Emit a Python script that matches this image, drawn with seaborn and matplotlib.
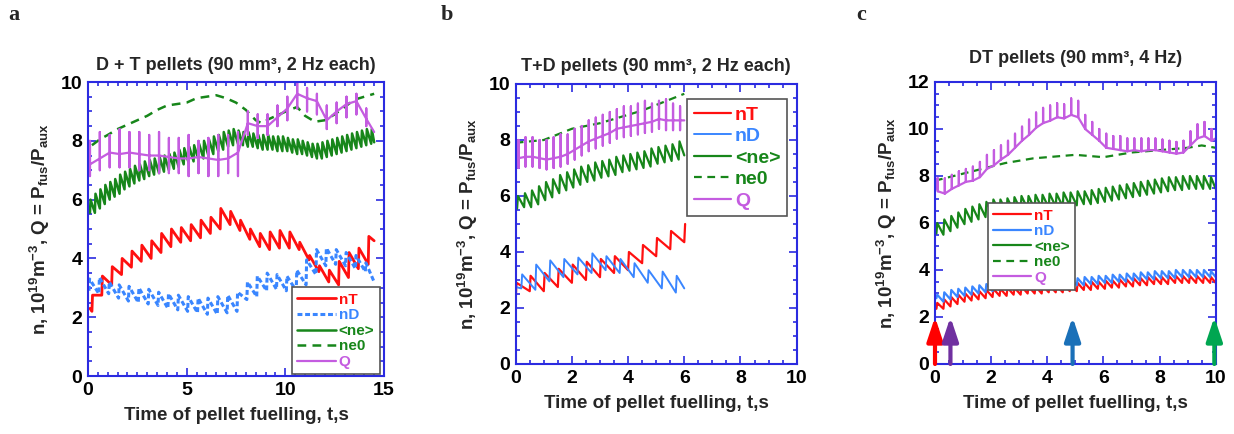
"""
Pellet fuelling scenarios: densities and fusion gain vs. time for three pellet schemes.
"""

from matplotlib.ticker import MultipleLocator
import matplotlib.pyplot as plt
import seaborn as sns
import pandas as pd
import numpy as np

# ---------------- data ----------------
# pellet injection times follow the stated frequencies (2 Hz each / 4 Hz)

# panel a: D + T pellets
a_nT_t = np.arange(0.2, 14.3, 0.5)
a_nT_hi = [2.75, 3.4, 3.72, 4.0, 4.25, 4.45, 4.6, 4.85, 5.0, 5.05, 5.15, 5.3, 5.4, 5.7, 5.6,
           5.3, 5.0, 4.85, 4.9, 4.95, 4.9, 4.55, 4.1, 3.75, 3.6, 3.9, 4.2, 4.35, 4.75]
a_nT_lo = [2.2, 2.75, 3.1, 3.45, 3.7, 3.9, 4.0, 4.2, 4.4, 4.55, 4.6, 4.7, 4.85, 5.0, 5.15,
           4.95, 4.65, 4.4, 4.3, 4.35, 4.35, 4.3, 3.95, 3.55, 3.2, 3.1, 3.35, 3.65, 3.8]
a_nT_end = (14.5, 4.6)

a_nD_t = np.arange(0.05, 14.1, 0.5)
a_nD_hi = [3.3, 3.35, 3.2, 3.1, 3.05, 3.0, 2.95, 2.85, 2.8, 2.75, 2.7, 2.65, 2.65, 2.7, 2.75,
           2.85, 3.2, 3.4, 3.5, 3.45, 3.4, 3.6, 3.95, 4.3, 4.35, 4.3, 4.2, 4.1, 3.85]
a_nD_lo = [2.9, 2.8, 2.8, 2.65, 2.55, 2.5, 2.45, 2.4, 2.3, 2.25, 2.2, 2.15, 2.1, 2.1, 2.15,
           2.2, 2.6, 2.7, 2.9, 2.95, 2.9, 2.9, 3.1, 3.45, 3.75, 3.8, 3.75, 3.65, 3.55]
a_nD_end = (14.5, 3.2)

a_ne_t = np.arange(0.1, 14.4, 0.25)
a_ne_hi = [6.0, 6.2, 6.35, 6.5, 6.6, 6.7, 6.85, 6.95, 7.05, 7.15,
           7.2, 7.3, 7.35, 7.4, 7.45, 7.5, 7.55, 7.6, 7.7, 7.75,
           7.8, 7.85, 7.9, 8.0, 8.05, 8.15, 8.2, 8.3, 8.35, 8.4,
           8.35, 8.3, 8.3, 8.25, 8.2, 8.2, 8.2, 8.15, 8.15, 8.15,
           8.1, 8.05, 8.05, 8.0, 7.95, 7.9, 7.9, 7.95, 8.0, 8.05,
           8.1, 8.15, 8.2, 8.25, 8.3, 8.35, 8.4, 8.4]
a_ne_lo = [5.55, 5.55, 5.7, 5.85, 6.0, 6.1, 6.2, 6.35, 6.45, 6.55,
           6.65, 6.7, 6.8, 6.85, 6.9, 6.95, 7.0, 7.05, 7.1, 7.2,
           7.25, 7.3, 7.35, 7.4, 7.5, 7.55, 7.65, 7.7, 7.8, 7.85,
           7.9, 7.85, 7.8, 7.8, 7.75, 7.7, 7.7, 7.7, 7.65, 7.65,
           7.65, 7.6, 7.55, 7.55, 7.5, 7.45, 7.4, 7.4, 7.45, 7.5,
           7.55, 7.6, 7.65, 7.7, 7.75, 7.8, 7.85, 7.9]
a_ne_end = (14.5, 7.95)

a_ne0_t = [0.2, 0.6, 1.0, 1.5, 2.0, 2.5, 3.0, 3.5, 4.0, 4.5, 5.0, 5.5, 6.0, 6.5, 7.0, 7.5,
           8.0, 8.5, 8.8, 9.2, 9.7, 10.2, 10.6, 11.0, 11.5, 12.0, 12.5, 13.0, 13.5, 14.0, 14.5]
a_ne0 = [7.85, 8.05, 8.2, 8.4, 8.55, 8.7, 8.85, 9.05, 9.2, 9.25, 9.3, 9.45, 9.5, 9.55, 9.45, 9.3,
         9.05, 8.7, 8.6, 8.75, 8.9, 9.05, 9.15, 8.85, 8.65, 8.7, 8.9, 9.15, 9.4, 9.5, 9.6]

a_Q_t = np.arange(0.1, 14.2, 0.5)
a_Q_base = [7.2, 7.4, 7.6, 7.55, 7.6, 7.55, 7.5, 7.5, 7.45, 7.4, 7.4, 7.45, 7.4, 7.35, 7.4,
            7.6, 8.6, 8.5, 8.5, 8.8, 9.1, 9.6, 9.45, 9.35, 8.7, 9.0, 9.25, 9.35, 8.75]
a_Q_top = [8.0, 8.3, 8.2, 8.4, 8.3, 8.3, 8.2, 8.3, 8.1, 8.1, 8.2, 8.0, 8.1, 8.2, 8.2,
           8.3, 9.0, 8.9, 8.9, 9.2, 9.5, 10.0, 9.8, 9.6, 9.2, 9.3, 9.5, 9.6, 9.1]
a_Q_bot = [6.8, 7.0, 7.1, 7.1, 7.1, 7.0, 7.0, 6.9, 6.9, 6.9, 6.8, 6.9, 6.8, 6.8, 6.9,
           6.8, 8.2, 8.1, 8.2, 8.5, 8.7, 9.1, 9.0, 8.9, 8.4, 8.6, 8.8, 8.9, 8.5]
a_Q_start = (0.0, 7.3)
a_Q_end = (14.5, 8.3)

# panel b: T+D pellets
b_nT_t = np.arange(0.0, 6.1, 0.5)
b_nT_hi = [2.9, 3.15, 3.25, 3.4, 3.55, 3.65, 3.75, 3.85, 4.0, 4.25, 4.5, 4.75, 5.0]
b_nT_lo = [2.3, 2.6, 2.6, 2.75, 2.9, 3.0, 3.1, 3.25, 3.35, 3.6, 3.85, 4.1, 4.35]

b_nD_t = np.arange(0.2, 5.8, 0.5)
b_nD_hi = [3.2, 3.55, 3.7, 3.75, 3.8, 3.95, 3.85, 3.75, 3.6, 3.35, 3.3, 3.15]
b_nD_lo = [2.7, 2.65, 2.95, 3.1, 3.2, 3.25, 3.35, 3.25, 3.1, 2.9, 2.7, 2.55]
b_nD_start = (0.0, 2.75)
b_nD_end = (6.0, 2.7)

b_ne_t = np.arange(0.05, 5.9, 0.25)
b_ne_hi = [6.0, 6.1, 6.2, 6.35, 6.5, 6.6, 6.75, 6.85, 6.95, 7.05,
           7.1, 7.2, 7.25, 7.3, 7.4, 7.45, 7.5, 7.55, 7.6, 7.7,
           7.75, 7.8, 7.85, 7.95]
b_ne_lo = [5.55, 5.6, 5.6, 5.7, 5.85, 5.95, 6.1, 6.2, 6.3, 6.4,
           6.5, 6.55, 6.65, 6.7, 6.75, 6.85, 6.9, 6.95, 7.0, 7.05,
           7.15, 7.2, 7.25, 7.3]
b_ne_end = (6.0, 7.45)

b_ne0_t = [0.0, 0.5, 1.0, 1.5, 2.0, 2.5, 3.0, 3.5, 4.0, 4.5, 5.0, 5.5, 6.0]
b_ne0 = [7.9, 7.95, 8.0, 8.2, 8.4, 8.5, 8.6, 8.75, 8.9, 9.05, 9.25, 9.45, 9.65]

b_Q_t = np.arange(0.1, 5.9, 0.25)
b_Q_base = [7.35, 7.4, 7.4, 7.35, 7.3, 7.35, 7.4, 7.5, 7.65, 7.8,
            7.95, 8.05, 8.15, 8.25, 8.4, 8.45, 8.5, 8.55, 8.6, 8.65,
            8.75, 8.7, 8.7, 8.7]
b_Q_top = [8.0, 8.1, 8.1, 8.0, 8.0, 8.1, 8.2, 8.2, 8.4, 8.5,
           8.7, 8.8, 8.9, 9.0, 9.1, 9.2, 9.2, 9.3, 9.4, 9.3,
           9.4, 9.45, 9.3, 9.2]
b_Q_bot = [7.0, 7.05, 7.05, 7.0, 6.95, 7.0, 7.05, 7.15, 7.3, 7.45,
           7.6, 7.7, 7.8, 7.9, 8.05, 8.1, 8.15, 8.2, 8.25, 8.3,
           8.4, 8.35, 8.35, 8.35]
b_Q_start = (0.0, 7.35)
b_Q_end = (6.0, 8.7)

# panel c: DT pellets
c_t = np.arange(0.05, 9.9, 0.25)
c_nT_hi = [2.6, 2.75, 2.85, 2.95, 3.0, 3.05, 3.1, 3.15, 3.2, 3.2,
           3.25, 3.25, 3.3, 3.3, 3.3, 3.35, 3.35, 3.35, 3.4, 3.4,
           3.45, 3.45, 3.5, 3.5, 3.55, 3.55, 3.6, 3.6, 3.65, 3.65,
           3.7, 3.7, 3.7, 3.75, 3.75, 3.75, 3.75, 3.75, 3.75, 3.7]
c_nT_lo = [2.35, 2.35, 2.45, 2.55, 2.65, 2.7, 2.75, 2.8, 2.85, 2.9,
           2.9, 2.95, 2.95, 3.0, 3.0, 3.0, 3.05, 3.05, 3.05, 3.1,
           3.1, 3.15, 3.15, 3.2, 3.2, 3.25, 3.25, 3.3, 3.3, 3.35,
           3.35, 3.4, 3.4, 3.4, 3.45, 3.45, 3.45, 3.45, 3.45, 3.45]
c_nT_end = (10.0, 3.45)

c_nD_hi = [2.95, 3.05, 3.15, 3.2, 3.25, 3.3, 3.35, 3.4, 3.45, 3.45,
           3.5, 3.5, 3.5, 3.55, 3.55, 3.55, 3.6, 3.6, 3.6, 3.65,
           3.65, 3.7, 3.7, 3.75, 3.75, 3.8, 3.8, 3.85, 3.85, 3.9,
           3.9, 3.95, 3.95, 3.95, 4.0, 4.0, 4.0, 4.0, 4.0, 3.95]
c_nD_lo = [2.8, 2.65, 2.75, 2.85, 2.9, 2.95, 3.0, 3.05, 3.1, 3.15,
           3.15, 3.2, 3.2, 3.2, 3.25, 3.25, 3.25, 3.3, 3.3, 3.3,
           3.35, 3.35, 3.4, 3.4, 3.45, 3.45, 3.5, 3.5, 3.55, 3.55,
           3.6, 3.6, 3.65, 3.65, 3.65, 3.7, 3.7, 3.7, 3.7, 3.7]
c_nD_end = (10.0, 3.7)

c_ne_hi = [6.0, 6.15, 6.3, 6.45, 6.6, 6.7, 6.8, 6.9, 7.0, 7.0,
           7.05, 7.1, 7.15, 7.15, 7.2, 7.2, 7.25, 7.25, 7.3, 7.3,
           7.35, 7.35, 7.4, 7.45, 7.5, 7.55, 7.6, 7.65, 7.7, 7.75,
           7.8, 7.85, 7.9, 7.95, 7.95, 8.0, 8.0, 8.0, 8.0, 7.95]
c_ne_lo = [5.55, 5.5, 5.65, 5.8, 5.95, 6.05, 6.15, 6.25, 6.35, 6.45,
           6.45, 6.5, 6.55, 6.6, 6.6, 6.65, 6.65, 6.7, 6.7, 6.75,
           6.75, 6.8, 6.8, 6.85, 6.9, 6.95, 7.0, 7.05, 7.1, 7.15,
           7.2, 7.25, 7.3, 7.35, 7.4, 7.4, 7.45, 7.45, 7.45, 7.45]
c_ne_end = (10.0, 7.45)

c_ne0_t = [0.0, 0.5, 1.0, 1.5, 2.0, 2.5, 3.0, 3.5, 4.0, 4.5, 5.0, 5.5, 6.0, 6.5, 7.0, 7.5,
           8.0, 8.5, 9.0, 9.5, 10.0]
c_ne0 = [7.8, 7.95, 8.1, 8.25, 8.4, 8.55, 8.65, 8.75, 8.8, 8.85, 8.9, 8.85, 8.8, 8.9, 9.0, 9.05,
         9.1, 9.15, 9.2, 9.3, 9.2]

c_Q_t = np.arange(0.1, 9.9, 0.25)
c_Q_base = [7.35, 7.25, 7.45, 7.6, 7.75, 7.8, 7.95, 8.3, 8.45, 8.7,
            8.9, 9.2, 9.5, 9.75, 10.05, 10.25, 10.35, 10.5, 10.45, 10.6,
            10.5, 10.0, 9.75, 9.5, 9.2, 9.15, 9.1, 9.05, 9.1, 9.05,
            9.1, 9.1, 9.05, 9.0, 8.95, 9.0, 9.3, 9.6, 9.7, 9.5]
c_Q_top = [7.9, 7.9, 8.05, 8.2, 8.3, 8.4, 8.6, 8.9, 9.1, 9.3,
           9.5, 9.8, 10.1, 10.4, 10.7, 10.9, 11.0, 11.1, 11.05, 11.3,
           11.2, 10.6, 10.3, 10.0, 9.8, 9.7, 9.7, 9.6, 9.6, 9.6,
           9.6, 9.6, 9.55, 9.5, 9.45, 9.5, 9.9, 10.2, 10.3, 10.0]
c_Q_start = (0.0, 8.0)
c_Q_end = (10.0, 9.6)

# arrows in panel c
arrow_t = [0.0, 0.55, 4.9, 9.95]
arrow_top = 2.0
arrow_colors = ['#ff0000', '#7030a0', '#1a70b8', '#00a651']

# ---------------- style ----------------
RED = '#ff1010'
BLUE = '#3a86ff'
GREEN = '#17861a'
PURPLE = '#c45ce0'
SPINE = '#2b2be0'
RISE = 0.03

sns.set_style('ticks')
plt.rcParams['font.family'] = ['Liberation Sans', 'DejaVu Sans']
plt.rcParams['font.weight'] = 'bold'
plt.rcParams['axes.labelweight'] = 'bold'
plt.rcParams['axes.titleweight'] = 'bold'
plt.rcParams['mathtext.fontset'] = 'custom'
plt.rcParams['mathtext.rm'] = 'Liberation Sans:bold'
plt.rcParams['mathtext.it'] = 'Liberation Sans:bold'
plt.rcParams['mathtext.bf'] = 'Liberation Sans:bold'
plt.rcParams['mathtext.default'] = 'rm'


def sawtooth(t, lo, hi, start=None, end=None):
    xs, ys = [], []
    if start:
        xs.append(start[0])
        ys.append(start[1])
    for ti, l, h in zip(t, lo, hi):
        xs += [ti, ti + RISE]
        ys += [l, h]
    if end:
        xs.append(end[0])
        ys.append(end[1])
    return pd.DataFrame({'t': xs, 'v': ys})


def spiky(t, base, top, bot=None, start=None, end=None):
    if bot is None:
        bot = base
    xs, ys = [], []
    if start:
        xs.append(start[0])
        ys.append(start[1])
    for ti, b, up, dn in zip(t, base, top, bot):
        xs += [ti, ti, ti, ti]
        ys += [b, up, dn, b]
    if end:
        xs.append(end[0])
        ys.append(end[1])
    return pd.DataFrame({'t': xs, 'v': ys})


def line(ax, df, color, label, lw, ls='-'):
    sns.lineplot(x='t', y='v', data=df, sort=False, estimator=None, color=color,
                 linewidth=lw, linestyle=ls, label=label, ax=ax)


def frame(ax, xmax, xmajor, ymax, title, tpad):
    ax.set_xlim(0, xmax)
    ax.set_ylim(0, ymax)
    ax.xaxis.set_major_locator(MultipleLocator(xmajor))
    ax.xaxis.set_minor_locator(MultipleLocator(0.5))
    ax.yaxis.set_major_locator(MultipleLocator(2))
    ax.yaxis.set_minor_locator(MultipleLocator(0.5))
    for s in ax.spines.values():
        s.set_color(SPINE)
        s.set_linewidth(1.5)
    ax.tick_params(which='both', direction='in', top=True, right=True, color=SPINE,
                   width=1.2, labelsize=14, labelcolor='black')
    ax.tick_params(which='major', length=6, pad=4)
    ax.tick_params(which='minor', length=3)
    ax.set_title(title, fontsize=13, fontweight='bold', pad=tpad)
    ax.set_xlabel('Time of pellet fuelling, t,s', fontsize=13.5, fontweight='bold', labelpad=6)
    ax.set_ylabel(r'n, 10$^{19}$m$^{-3}$, Q = P$_{fus}$/P$_{aux}$', fontsize=13.5,
                  fontweight='bold', labelpad=6)


def legend(ax, fs, hl, ls, **kw):
    leg = ax.legend(prop={'weight': 'bold', 'size': fs}, frameon=True, fancybox=False,
                    edgecolor='#555555', framealpha=1, handlelength=hl, labelspacing=ls,
                    borderpad=0.35, handletextpad=0.2, borderaxespad=0, **kw)
    leg.get_frame().set_linewidth(1.2)
    for text, ln in zip(leg.get_texts(), leg.get_lines()):
        text.set_color(ln.get_color())


fig = plt.figure(figsize=(12.34, 4.34), dpi=100)
ax_a = fig.add_axes([0.0713, 0.1336, 0.2399, 0.6774])
ax_b = fig.add_axes([0.4179, 0.1613, 0.2277, 0.6452])
ax_c = fig.add_axes([0.7577, 0.1613, 0.2275, 0.6498])

# panel a
line(ax_a, sawtooth(a_nT_t, a_nT_lo, a_nT_hi, start=(0.1, 2.3), end=a_nT_end), RED, 'nT', 2.0)
line(ax_a, sawtooth(a_nD_t, a_nD_lo, a_nD_hi, end=a_nD_end), BLUE, 'nD', 2.2, (0, (1.6, 0.9)))
line(ax_a, sawtooth(a_ne_t, a_ne_lo, a_ne_hi, start=(0.0, 5.6), end=a_ne_end), GREEN, '<ne>', 1.8)
line(ax_a, pd.DataFrame({'t': a_ne0_t, 'v': a_ne0}), GREEN, 'ne0', 1.8, (0, (3.5, 2.5)))
line(ax_a, spiky(a_Q_t, a_Q_base, a_Q_top, a_Q_bot, start=a_Q_start, end=a_Q_end), PURPLE, 'Q', 1.6)
frame(ax_a, 15, 5, 10, 'D + T pellets (90 mm³, 2 Hz each)', 9)
legend(ax_a, 11, 2.5, 0.1, loc='lower right', bbox_to_anchor=(0.985, 0.006))

# panel b
line(ax_b, sawtooth(b_nT_t, b_nT_lo, b_nT_hi), RED, 'nT', 1.6)
line(ax_b, sawtooth(b_nD_t, b_nD_lo, b_nD_hi, start=b_nD_start, end=b_nD_end), BLUE, 'nD', 1.4)
line(ax_b, sawtooth(b_ne_t, b_ne_lo, b_ne_hi, start=(0.0, 5.5), end=b_ne_end), GREEN, '<ne>', 1.6)
line(ax_b, pd.DataFrame({'t': b_ne0_t, 'v': b_ne0}), GREEN, 'ne0', 1.6, (0, (3.5, 2.5)))
line(ax_b, spiky(b_Q_t, b_Q_base, b_Q_top, b_Q_bot, start=b_Q_start, end=b_Q_end), PURPLE, 'Q', 1.6)
frame(ax_b, 10, 2, 10, 'T+D pellets (90 mm³, 2 Hz each)', 9)
legend(ax_b, 14, 1.9, 0.2, loc='upper right', bbox_to_anchor=(0.966, 0.946))

# panel c
line(ax_c, sawtooth(c_t, c_nT_lo, c_nT_hi, end=c_nT_end), RED, 'nT', 1.6)
line(ax_c, sawtooth(c_t, c_nD_lo, c_nD_hi, end=c_nD_end), BLUE, 'nD', 1.6)
line(ax_c, sawtooth(c_t, c_ne_lo, c_ne_hi, end=c_ne_end), GREEN, '<ne>', 1.6)
line(ax_c, pd.DataFrame({'t': c_ne0_t, 'v': c_ne0}), GREEN, 'ne0', 1.6, (0, (3.5, 2.5)))
line(ax_c, spiky(c_Q_t, c_Q_base, c_Q_top, start=c_Q_start, end=c_Q_end), PURPLE, 'Q', 1.6)
frame(ax_c, 10, 2, 12, 'DT pellets (90 mm³, 4 Hz)', 14)
legend(ax_c, 11, 2.5, 0.1, loc='lower left', bbox_to_anchor=(0.188, 0.262))

for t, col in zip(arrow_t, arrow_colors):
    ax_c.annotate('', xy=(t, arrow_top), xytext=(t, 0), annotation_clip=False,
                  arrowprops=dict(arrowstyle='-|>,head_width=0.3,head_length=0.9', color=col,
                                  lw=3.0, mutation_scale=16, shrinkA=0, shrinkB=0))

# panel letters
for x, letter in [(14, 'a'), (447, 'b'), (861, 'c')]:
    fig.text(x / 1234, 1 - 15 / 434, letter, fontfamily='Liberation Serif', fontweight='bold',
             fontsize=16, ha='center', va='center')

fig.savefig('out.png', dpi=100)
